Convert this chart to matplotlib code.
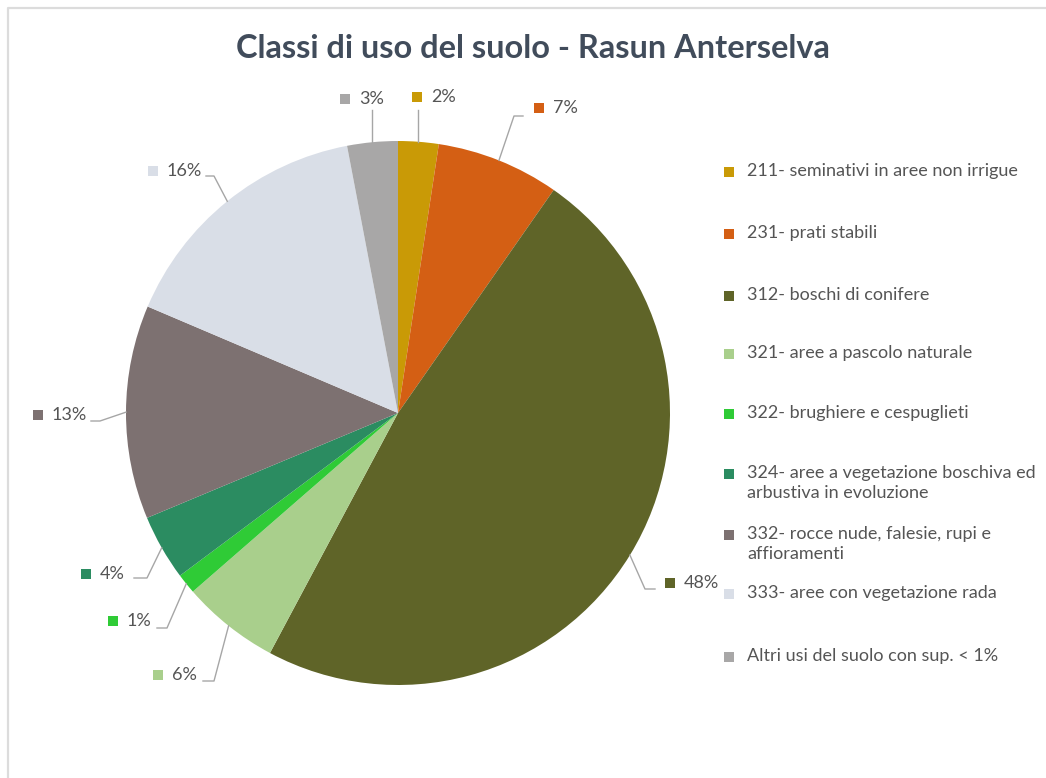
import numpy as np
import matplotlib.pyplot as plt
from matplotlib.patches import Rectangle

W, H = 1046, 778

# slice data (clockwise from 12 o'clock)
categories = [
    "211- seminativi in aree non irrigue",
    "231- prati stabili",
    "312- boschi di conifere",
    "321- aree a pascolo naturale",
    "322- brughiere e cespuglieti",
    "324- aree a vegetazione boschiva ed\narbustiva in evoluzione",
    "332- rocce nude, falesie, rupi e\naffioramenti",
    "333- aree con vegetazione rada",
    "Altri usi del suolo con sup. < 1%",
]
shares = [2.4, 7.3, 48.1, 5.8, 1.2, 3.9, 12.7, 15.6, 3.0]
colors = ["#c99a06", "#d45f14", "#5f6428", "#a9cf8c", "#2fcb36",
          "#2b8c61", "#7d7171", "#d9dee7", "#a8a7a7"]

# label layout in image pixels: marker centre, leader path after the edge point
label_marker = [(417, 97), (539, 108), (670, 583), (158, 675), (113, 621),
                (86, 574), (38, 415), (153, 171), (345, 99)]
leader_path = [None, [(514, 116), (523, 116)], [(645, 589), (655, 589)],
               [(214, 681), (203, 681)], [(167, 628), (157, 628)],
               [(147, 578), (134, 578)], [(100, 421), (91, 421)],
               [(214, 176), (206, 176)], None]

legend_y = [172, 234, 296, 354, 414, 474, 535, 594, 657]

txt_color = "#555555"
plt.rcParams['font.family'] = ['Lato', 'DejaVu Sans']

fig = plt.figure(figsize=(W / 100, H / 100), dpi=100)
ax = fig.add_axes([0, 0, 1, 1])


def P(x, y):
    return x, H - y


cx, cy = P(398, 413)
R = 272
wedges, _ = ax.pie(shares, colors=colors, startangle=90, counterclock=False,
                   center=(cx, cy), radius=R, frame=False,
                   wedgeprops=dict(linewidth=0))
ax.set_xlim(0, W)
ax.set_ylim(0, H)
ax.set_aspect('equal')
ax.axis('off')

# border of the chart area
ax.plot([8, 8, W], [0, H - 8, H - 8], color="#dcdcdc", lw=1.6, zorder=0)

ax.text(533, H - 48, "Classi di uso del suolo - Rasun Anterselva",
        ha='center', va='center', fontsize=23.4, fontweight='bold', color="#414c5b")

for i, w in enumerate(wedges):
    mid = np.deg2rad((w.theta1 + w.theta2) / 2)
    ex, ey = cx + R * np.cos(mid), cy + R * np.sin(mid)
    mx, my = label_marker[i]
    if leader_path[i] is None:
        xs, ys = [ex, ex], [ey, H - 110]
    else:
        pts = [P(*p) for p in leader_path[i]]
        xs = [ex] + [p[0] for p in pts]
        ys = [ey] + [p[1] for p in pts]
    ax.plot(xs, ys, color="#a6a6a6", lw=1)
    mxx, myy = P(mx, my)
    ax.add_patch(Rectangle((mxx - 5, myy - 5), 10, 10, color=colors[i], lw=0))
    ax.text(mxx + 14, myy, f"{round(shares[i])}%", ha='left', va='center',
            fontsize=13, color=txt_color)

for i, cat in enumerate(categories):
    lx, ly = P(729, legend_y[i])
    ax.add_patch(Rectangle((lx - 5, ly - 5), 10, 10, color=colors[i], lw=0))
    ax.text(lx + 18, ly + 9, cat, ha='left', va='top', fontsize=13,
            color=txt_color, linespacing=1.3)

fig.savefig("out.png", dpi=100)
